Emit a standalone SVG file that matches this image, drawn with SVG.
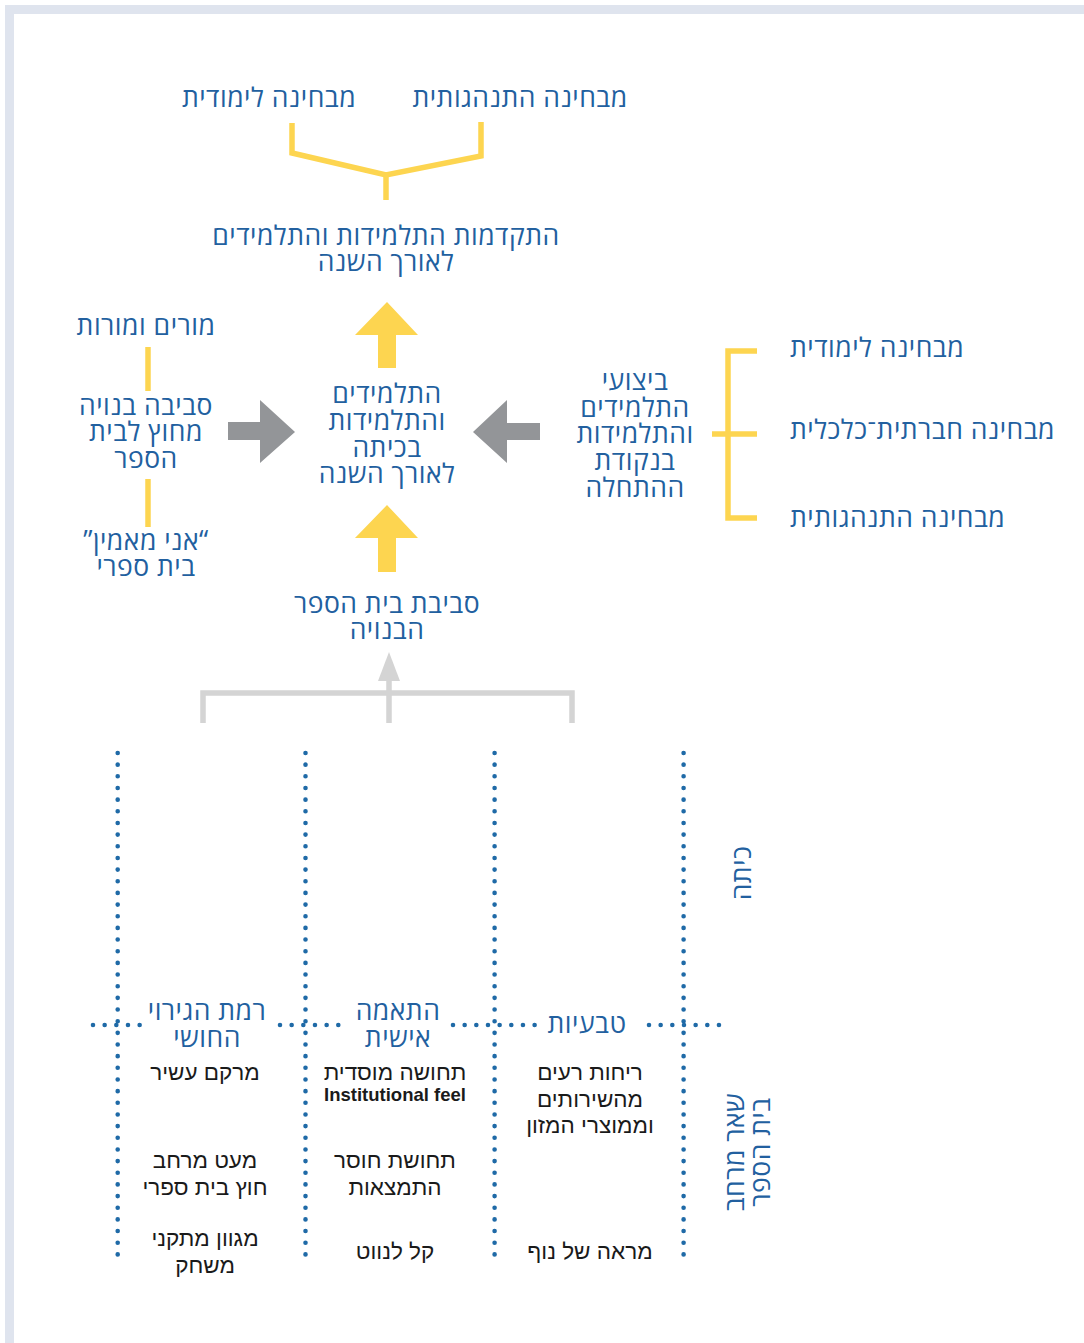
<svg xmlns="http://www.w3.org/2000/svg" width="1084" height="1343" viewBox="0 0 1084 1343">
<style>
.b{font-family:"Open Sans","Liberation Sans",sans-serif;font-size:26.5px;letter-spacing:0.5px;fill:#22609f;direction:rtl;text-anchor:middle}
.bl{font-family:"Open Sans","Liberation Sans",sans-serif;font-size:26.5px;letter-spacing:0.5px;fill:#22609f;direction:rtl;text-anchor:end}
.k{font-family:"Liberation Sans",sans-serif;font-size:22.5px;fill:#1a1a1a;direction:rtl;text-anchor:middle}
.ke{font-family:"Liberation Sans",sans-serif;font-size:18.5px;font-weight:bold;fill:#1a1a1a;text-anchor:middle}
.y{fill:none;stroke:#fdd550;stroke-width:5.5}
.ya{fill:#fdd550}
.g{fill:#939598}
.lg{fill:none;stroke:#d4d4d4;stroke-width:5.5}
.dot{fill:none;stroke:#1f6aa7;stroke-width:4.6;stroke-linecap:round;stroke-dasharray:0 11.66}
</style>
<rect width="1084" height="1343" fill="#ffffff"/>
<path d="M9.5,1343 V9.5 H1084" fill="none" stroke="#dfe4ee" stroke-width="9"/>

<g id="connectors">
  <polyline class="y" points="292,123 292,153 386,175 481,156 481,122"/>
  <line class="y" x1="386" y1="175" x2="386" y2="200"/>
  <polygon class="ya" points="387,302 418,335 396,335 396,368 378,368 378,335 355,335"/>
  <polygon class="ya" points="387,505 418,538 396,538 396,572 378,572 378,538 355,538"/>
  <polygon class="g" points="295,432 260,400 260,422 228,422 228,440 260,440 260,463"/>
  <polygon class="g" points="473,432 507,400 507,423 540,423 540,440 507,440 507,463"/>
  <line class="y" x1="148" y1="347" x2="148" y2="391"/>
  <line class="y" x1="148" y1="479" x2="148" y2="527"/>
  <path class="y" d="M757,351 H728 V518 H757 M712,434 H757"/>
  <path class="lg" d="M203,723 V693 H572 V723 M389,723 V679"/>
  <polygon fill="#d4d4d4" points="389,652 400,681 378,681"/>
</g>

<g id="grid">
  <path class="dot" d="M117.7,753 V1266 M305.5,753 V1266 M494.6,753 V1266 M683.6,753 V1266"/>
  <path class="dot" d="M93,1025 H141 M280,1025 H342 M453,1025 H541 M649,1025 H719"/>
</g>

<g id="top-learning"><text class="b" x="269" y="107">מבחינה לימודית</text></g>
<g id="top-behavior"><text class="b" x="520" y="107">מבחינה התנהגותית</text></g>
<g id="progress"><text class="b" x="386" y="245">התקדמות התלמידות והתלמידים</text><text class="b" x="386" y="271">לאורך השנה</text></g>
<g id="center">
  <text class="b" x="387" y="403">התלמידים</text>
  <text class="b" x="387" y="430">והתלמידות</text>
  <text class="b" x="387" y="457">בכיתה</text>
  <text class="b" x="387" y="483">לאורך השנה</text>
</g>
<g id="built-env"><text class="b" x="387" y="613">סביבת בית הספר</text><text class="b" x="387" y="639">הבנויה</text></g>
<g id="teachers"><text class="b" x="146" y="335">מורים ומורות</text></g>
<g id="outside-env"><text class="b" x="146" y="415">סביבה בנויה</text><text class="b" x="146" y="441">מחוץ לבית</text><text class="b" x="146" y="468">הספר</text></g>
<g id="credo"><text class="b" x="146" y="550">“אני מאמין”</text><text class="b" x="146" y="576">בית ספרי</text></g>
<g id="baseline-perf">
  <text class="b" x="635" y="390">ביצועי</text>
  <text class="b" x="635" y="417">התלמידים</text>
  <text class="b" x="635" y="443">והתלמידות</text>
  <text class="b" x="635" y="470">בנקודת</text>
  <text class="b" x="635" y="497">ההתחלה</text>
</g>
<g id="right-learning"><text class="bl" x="790" y="357">מבחינה לימודית</text></g>
<g id="right-socio"><text class="bl" x="790" y="439">מבחינה חברתית־כלכלית</text></g>
<g id="right-behavior"><text class="bl" x="790" y="527">מבחינה התנהגותית</text></g>

<g id="row-class"><text class="b" transform="translate(751,873) rotate(-90)">כיתה</text></g>
<g id="row-school"><text class="b" transform="translate(744,1152) rotate(-90)">שאר מרחב</text><text class="b" transform="translate(770,1152) rotate(-90)">בית הספר</text></g>

<g id="col-stimulation"><text class="b" x="207" y="1020">רמת הגירוי</text><text class="b" x="207" y="1047">החושי</text></g>
<g id="col-personal"><text class="b" x="398" y="1020">התאמה</text><text class="b" x="398" y="1047">אישית</text></g>
<g id="col-nature"><text class="b" x="587" y="1033">טבעיות</text></g>

<g id="c1-texture"><text class="k" x="205" y="1080">מרקם עשיר</text></g>
<g id="c1-space"><text class="k" x="205" y="1168">מעט מרחב</text><text class="k" x="205" y="1195">חוץ בית ספרי</text></g>
<g id="c1-play"><text class="k" x="205" y="1246">מגוון מתקני</text><text class="k" x="205" y="1273">משחק</text></g>
<g id="c2-institutional"><text class="k" x="395" y="1080">תחושה מוסדית</text><text class="ke" x="395" y="1101">Institutional feel</text></g>
<g id="c2-orientation"><text class="k" x="395" y="1168">תחושת חוסר</text><text class="k" x="395" y="1195">התמצאות</text></g>
<g id="c2-navigate"><text class="k" x="395" y="1259">קל לנווט</text></g>
<g id="c3-smells"><text class="k" x="590" y="1080">ריחות רעים</text><text class="k" x="590" y="1107">מהשירותים</text><text class="k" x="590" y="1133">וממוצרי המזון</text></g>
<g id="c3-view"><text class="k" x="590" y="1259">מראה של נוף</text></g>
</svg>
